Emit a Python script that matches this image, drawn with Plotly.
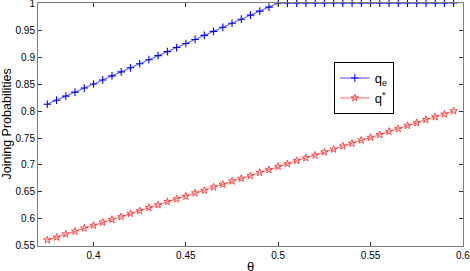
import plotly.graph_objects as go

theta = [0.375, 0.380, 0.385, 0.390, 0.395, 0.400, 0.405, 0.410, 0.415, 0.420,
         0.425, 0.430, 0.435, 0.440, 0.445, 0.450, 0.455, 0.460, 0.465, 0.470,
         0.475, 0.480, 0.485, 0.490, 0.495, 0.500, 0.505, 0.510, 0.515, 0.520,
         0.525, 0.530, 0.535, 0.540, 0.545, 0.550, 0.555, 0.560, 0.565, 0.570,
         0.575, 0.580, 0.585, 0.590, 0.595]

q_e = [0.8125, 0.820, 0.8275, 0.835, 0.8425, 0.850, 0.8575, 0.865, 0.8725, 0.880,
       0.8875, 0.895, 0.9025, 0.910, 0.9175, 0.925, 0.9325, 0.940, 0.9475, 0.955,
       0.9625, 0.970, 0.9775, 0.985, 0.9925, 1.0, 1.0, 1.0, 1.0, 1.0,
       1.0, 1.0, 1.0, 1.0, 1.0, 1.0, 1.0, 1.0, 1.0, 1.0,
       1.0, 1.0, 1.0, 1.0, 1.0]

q_star = [0.561, 0.566, 0.572, 0.577, 0.583, 0.588, 0.594, 0.599, 0.604, 0.610,
          0.615, 0.621, 0.626, 0.632, 0.637, 0.642, 0.648, 0.653, 0.659, 0.664,
          0.670, 0.675, 0.680, 0.686, 0.691, 0.697, 0.702, 0.708, 0.713, 0.718,
          0.724, 0.729, 0.735, 0.740, 0.746, 0.751, 0.756, 0.762, 0.767, 0.773,
          0.778, 0.784, 0.789, 0.794, 0.800]

x_ticks = [0.4, 0.45, 0.5, 0.55, 0.6]
x_labels = ["0.4", "0.45", "0.5", "0.55", "0.6"]
y_ticks = [0.55, 0.6, 0.65, 0.7, 0.75, 0.8, 0.85, 0.9, 0.95, 1.0]
y_labels = ["0.55", "0.6", "0.65", "0.7", "0.75", "0.8", "0.85", "0.9", "0.95", "1"]

FONT = "Liberation Sans, Arial, sans-serif"

fig = go.Figure()
fig.add_trace(go.Scatter(
    x=theta, y=q_e, mode="lines+markers", name="q<sub>e</sub>",
    line=dict(color="#4d4dff", width=1),
    marker=dict(symbol="cross-thin", size=5.5, color="#0000ff",
                line=dict(color="#0000ff", width=1.1)),
    cliponaxis=False,
))
fig.add_trace(go.Scatter(
    x=theta, y=q_star, mode="lines+markers", name="q<sup>*</sup>",
    line=dict(color="#ff6666", width=1),
    marker=dict(symbol="star-open", size=5.5, color="#ff3333",
                line=dict(color="#ff3333", width=0.9)),
    cliponaxis=False,
))

axis_common = dict(
    showline=True, linecolor="#7f7f7f", linewidth=1, mirror="ticks",
    ticks="inside", ticklen=4, tickcolor="#333333", tickwidth=1,
    showgrid=False, zeroline=False, automargin=False,
    ticklabeloverflow="allow",
    tickfont=dict(family=FONT, size=10, color="#000000"),
)

fig.update_layout(
    width=470, height=271,
    margin=dict(l=38, r=7, t=3, b=25),
    paper_bgcolor="white", plot_bgcolor="white",
    showlegend=True,
    legend=dict(
        x=0.696, y=0.757, xanchor="left", yanchor="top",
        bordercolor="#000000", borderwidth=1, bgcolor="white",
        font=dict(family=FONT, size=13, color="#000000"),
        itemwidth=30, tracegroupgap=0,
    ),
    xaxis=dict(range=[0.36995, 0.60005], tickvals=x_ticks, ticktext=x_labels,
               **axis_common),
    yaxis=dict(range=[0.54995, 1.00005], tickvals=y_ticks, ticktext=y_labels,
               **axis_common),
    annotations=[
        dict(text="θ", xref="paper", yref="paper", x=0.5, y=0, yshift=-20,
             xanchor="center", yanchor="middle", showarrow=False,
             font=dict(family=FONT, size=13, color="#000000")),
        dict(text="Joining Probabilities", xref="paper", yref="paper", x=0,
             xshift=-32, y=0.5, xanchor="center", yanchor="middle",
             textangle=-90, showarrow=False,
             font=dict(family=FONT, size=12.5, color="#000000")),
    ],
)

fig.write_html(
    "out.html",
    config={"displayModeBar": False},
    post_script="document.body.style.margin='0';document.body.style.overflow='hidden';",
)
